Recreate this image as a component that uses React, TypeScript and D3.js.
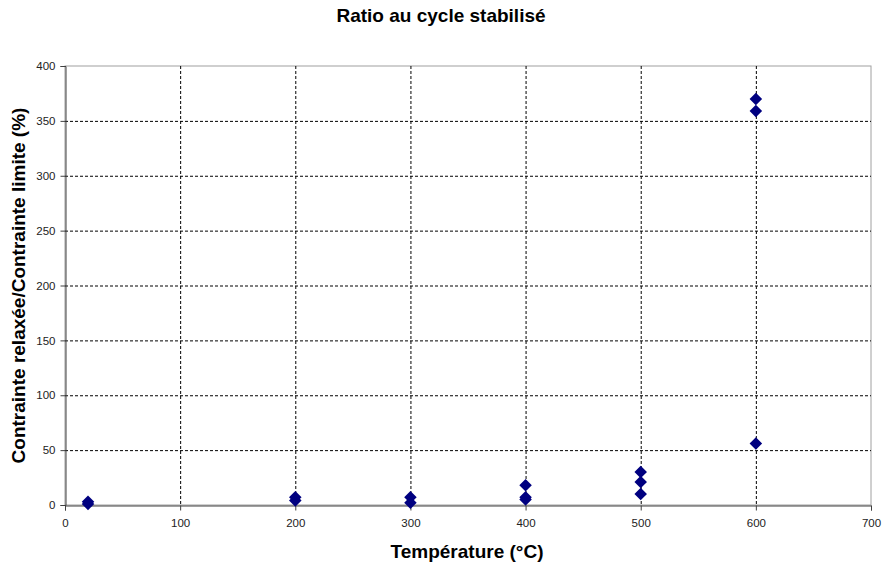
import React, { useEffect, useRef } from 'react';
import * as d3 from 'd3';

const temperatures = [20, 20, 200, 200, 300, 300, 400, 400, 400, 500, 500, 500, 600, 600, 600];
const ratios = [3, 1, 7, 4, 7, 2, 18, 7, 5, 30, 21, 10, 370, 359, 56];
const xTicks = [0, 100, 200, 300, 400, 500, 600, 700];
const yTicks = [0, 50, 100, 150, 200, 250, 300, 350, 400];

export default function App(): JSX.Element {
  const svgRef = useRef<SVGSVGElement>(null);

  useEffect(() => {
    const svgEle = svgRef.current;
    if (svgEle == null) {
      return;
    }
    const svg = d3.select(svgEle);
    svg.selectAll('*').remove();

    const left = 65;
    const right = 871;
    const top = 66;
    const bottom = 505;
    const font = 'Liberation Sans, Arial, sans-serif';

    const x = d3.scaleLinear().domain([0, 700]).range([left, right]);
    const y = d3.scaleLinear().domain([0, 400]).range([bottom, top]);

    // frame (top and right in grey)
    svg.append('rect')
      .attr('x', left).attr('y', top)
      .attr('width', right - left).attr('height', bottom - top)
      .attr('fill', 'white').attr('stroke', '#a0a0a0');

    // grid
    svg.append('g')
      .selectAll('line')
      .data(yTicks.filter((d) => d > 0 && d < 400))
      .enter()
      .append('line')
      .attr('x1', left).attr('x2', right)
      .attr('y1', (d) => y(d) + 0.5).attr('y2', (d) => y(d) + 0.5)
      .attr('stroke', 'black').attr('stroke-dasharray', '3,2');
    svg.append('g')
      .selectAll('line')
      .data(xTicks.filter((d) => d > 0 && d < 700))
      .enter()
      .append('line')
      .attr('y1', top).attr('y2', bottom)
      .attr('x1', (d) => x(d) + 0.5).attr('x2', (d) => x(d) + 0.5)
      .attr('stroke', 'black').attr('stroke-dasharray', '3,2');

    // axes
    const xAxis = svg.append('g')
      .attr('transform', `translate(0,${bottom + 0.5})`)
      .call(d3.axisBottom(x).tickValues(xTicks).tickSize(5).tickPadding(8));
    const yAxis = svg.append('g')
      .attr('transform', `translate(${left + 0.5},0)`)
      .call(d3.axisLeft(y).tickValues(yTicks).tickSize(5).tickPadding(5));
    [xAxis, yAxis].forEach((g) => {
      g.select('.domain').attr('stroke', '#404040');
      g.selectAll('.tick line').attr('stroke', '#404040');
      g.selectAll('.tick text')
        .attr('fill', '#222')
        .style('font-family', font)
        .style('font-size', '11.5px');
    });

    // points
    const diamond = d3.symbol().type(d3.symbolDiamond2).size(100);
    svg.append('g')
      .selectAll('path')
      .data(temperatures.map((t, i) => ({ t, r: ratios[i] })))
      .enter()
      .append('path')
      .attr('d', diamond)
      .attr('transform', (d) => `translate(${x(d.t)},${y(d.r)})`)
      .attr('fill', '#000080');

    // titles
    const titleStyle = (t: d3.Selection<SVGTextElement, unknown, null, undefined>) =>
      t.attr('text-anchor', 'middle')
        .style('font-family', font).style('font-size', '19px').style('font-weight', 'bold');
    svg.append('text')
      .attr('x', 441).attr('y', 22)
      .call(titleStyle)
      .text('Ratio au cycle stabilisé');
    svg.append('text')
      .attr('x', 467).attr('y', 558)
      .call(titleStyle)
      .text('Température (°C)');
    svg.append('text')
      .attr('transform', `translate(25,${(top + bottom) / 2}) rotate(-90)`)
      .call(titleStyle)
      .text('Contrainte relaxée/Contrainte limite (%)');
  });

  return (
    <svg
      ref={svgRef}
      width={883}
      height={567}
      style={{ position: 'absolute', left: 0, top: 0, background: 'white' }}
    />
  );
}
